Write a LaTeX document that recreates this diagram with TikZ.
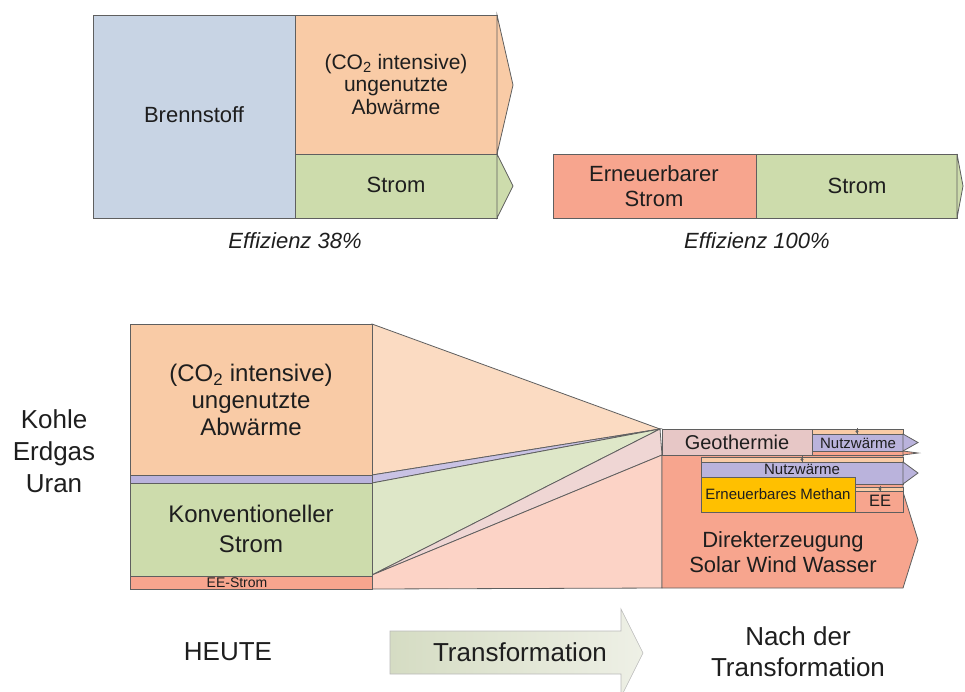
\documentclass[tikz,border=0pt]{standalone}
\usepackage{fontspec}
\setmainfont{Liberation Sans}

% fill colours of the energy flows
\definecolor{cBlue}{HTML}{C8D4E4}
\definecolor{cOrange}{HTML}{F9CBA6}
\definecolor{cGreen}{HTML}{CDDCAC}
\definecolor{cRed}{HTML}{F7A58E}
\definecolor{cPink}{HTML}{E7C7C6}
\definecolor{cPurple}{HTML}{BAB3DC}
\definecolor{cGold}{HTML}{FFC000}
% lighter tints for the converging funnels
\definecolor{cOrangeL}{HTML}{FBDBC2}
\definecolor{cGreenL}{HTML}{DEE7C8}
\definecolor{cPinkL}{HTML}{EFD6D4}
\definecolor{cRedL}{HTML}{FCD3C6}
\definecolor{cPurpleL}{HTML}{C9C2E4}
\definecolor{cEdge}{HTML}{5F5F5F}
\definecolor{cText}{HTML}{1E1E1E}
\definecolor{cArrowA}{HTML}{D5DCC3}
\definecolor{cArrowB}{HTML}{EEF0E6}

\newcommand\fsz[2]{\fontsize{#1}{#2}\selectfont}

\tikzset{
  flow/.style={draw=cEdge, line width=0.8pt, line join=miter},
  lbl/.style={text=cText, align=center, inner sep=0pt},
  marker/.style={fill=cEdge},
}

\begin{document}
\begin{tikzpicture}[x=1pt, y=-1pt]
\useasboundingbox (0,0) rectangle (965,691);

% ---------- fossil plant: fuel -> waste heat + power ----------
\path[flow, fill=cBlue] (93,15) rectangle (295,218);
\path[flow, fill=cOrange] (295,15) rectangle (497,154);
\path[flow, fill=cOrange] (497,15) -- (513,85) -- (497,154) -- cycle;
\path[flow, fill=cGreen] (295,154) rectangle (497,218);
\path[flow, fill=cGreen] (497,154) -- (513,186) -- (497,218) -- cycle;

\node[lbl, font=\fsz{22}{22}] (brenn) at (194,115) {Brennstoff};
\node[lbl, font=\fsz{21}{22.5}] (abw1) at (396,84) {(CO\textsubscript{2} intensive)\\ungenutzte\\Abwärme};
\node[lbl, font=\fsz{22}{22}] (strom1) at (396,185) {Strom};
\node[lbl, font=\itshape\fsz{22}{22}] (eff1) at (295,241) {Effizienz 38\%};

% ---------- renewable power: 1:1 ----------
\path[flow, fill=cRed] (553,154) rectangle (756,218);
\path[flow, fill=cGreen] (756,154) rectangle (957,218);
\path[flow, fill=cGreen] (957,154) -- (963,186) -- (957,218) -- cycle;

\node[lbl, font=\fsz{22}{25}] (ees) at (654,186) {Erneuerbarer\\Strom};
\node[lbl, font=\fsz{22}{22}] (strom2) at (857,186) {Strom};
\node[lbl, font=\itshape\fsz{22}{22}] (eff2) at (757,241) {Effizienz 100\%};

% ---------- funnels between today and after ----------
\path[flow, fill=cOrangeL] (372,324) -- (660,429) -- (372,475) -- cycle;
\path[flow, fill=cPurpleL] (372,475) -- (660,429) -- (372,483) -- cycle;
\path[flow, fill=cGreenL] (372,483) -- (660,429) -- (372,575) -- cycle;
\path[flow, fill=cPinkL] (372,575) -- (660,429) -- (662,455) -- cycle;
\path[flow, fill=cRedL] (372,575) -- (662,455) -- (662,588) -- (372,589) -- cycle;

% ---------- today ----------
\path[flow, fill=cOrange] (130,324) rectangle (372,475);
\path[flow, fill=cPurple] (130,475) rectangle (372,483);
\path[flow, fill=cGreen] (130,483) rectangle (372,576);
\path[flow, fill=cRed] (130,576) rectangle (372,589);

\node[lbl, font=\fsz{24}{27}] (abw2) at (251,400) {(CO\textsubscript{2} intensive)\\ungenutzte\\Abwärme};
\node[lbl, font=\fsz{24}{30}] (konv) at (251,529) {Konventioneller\\Strom};
\node[lbl, font=\fsz{14}{14}] (eestrom) at (237,583) {EE-Strom};
\node[lbl, font=\fsz{26}{32}] (fossil) at (54,451) {Kohle\\Erdgas\\Uran};

% ---------- after the transformation ----------
\path[flow, fill=cRed] (662,455) -- (903,455) -- (903,492) -- (918,540)
  -- (903,588) -- (662,588) -- cycle;
\path[flow, fill=cPink] (662,429) rectangle (812,455);

% geothermal heat stack
\path[flow, fill=cOrange] (812,429) rectangle (903,434);
\path[flow, fill=cPurple] (812,434) rectangle (903,451);
\path[flow, fill=cPurple] (903,434) -- (918,442.5) -- (903,451) -- cycle;
\path[flow, fill=cRed] (812,451) rectangle (903,455);
\path[flow, fill=cRed] (903,451) -- (918,453) -- (903,455) -- cycle;

% heat and methane from surplus power
\path[flow, fill=cOrange] (701,457) rectangle (903,462);
\path[flow, fill=cPurple] (701,462) rectangle (903,484);
\path[flow, fill=cPurple] (903,462) -- (918,473) -- (903,484) -- cycle;
\path[flow, fill=cGold] (701,477) rectangle (855,512);
\path[flow, fill=cOrange] (855,487) rectangle (903,491);
\path[flow, fill=cRed] (855,491) rectangle (903,512);

% small markers on the thin strips
\foreach \mx/\my in {857/431.5, 802/459.5, 880/489} {
  \fill[marker] (\mx,\my) circle (1.6);
  \draw[cEdge, line width=0.8pt] (\mx,\my-3.5) -- (\mx,\my+2);
}

\node[lbl, font=\fsz{20}{20}] (geo) at (737,442) {Geothermie};
\node[lbl, font=\fsz{15}{15}] (nw1) at (858,443) {Nutzwärme};
\node[lbl, font=\fsz{15}{15}] (nw2) at (802,469) {Nutzwärme};
\node[lbl, font=\fsz{15}{15}] (meth) at (778,494.5) {Erneuerbares Methan};
\node[lbl, font=\fsz{16.5}{16.5}] (ee) at (880,501) {EE};
\node[lbl, font=\fsz{22}{25}] (direkt) at (783,552) {Direkterzeugung\\Solar Wind Wasser};

% ---------- bottom captions ----------
\path[draw=gray!55, line width=0.6pt, left color=cArrowA, right color=cArrowB]
  (390,631) -- (621,631) -- (621,609) -- (643,653) -- (621,697) -- (621,674)
  -- (390,674) -- cycle;
\node[lbl, font=\fsz{26}{26}] (trans) at (520,652) {Transformation};
\node[lbl, font=\fsz{26}{26}] (heute) at (228,652) {HEUTE};
\node[lbl, font=\fsz{26}{31}] (nach) at (798,651.5) {Nach der\\Transformation};
\end{tikzpicture}
\end{document}
